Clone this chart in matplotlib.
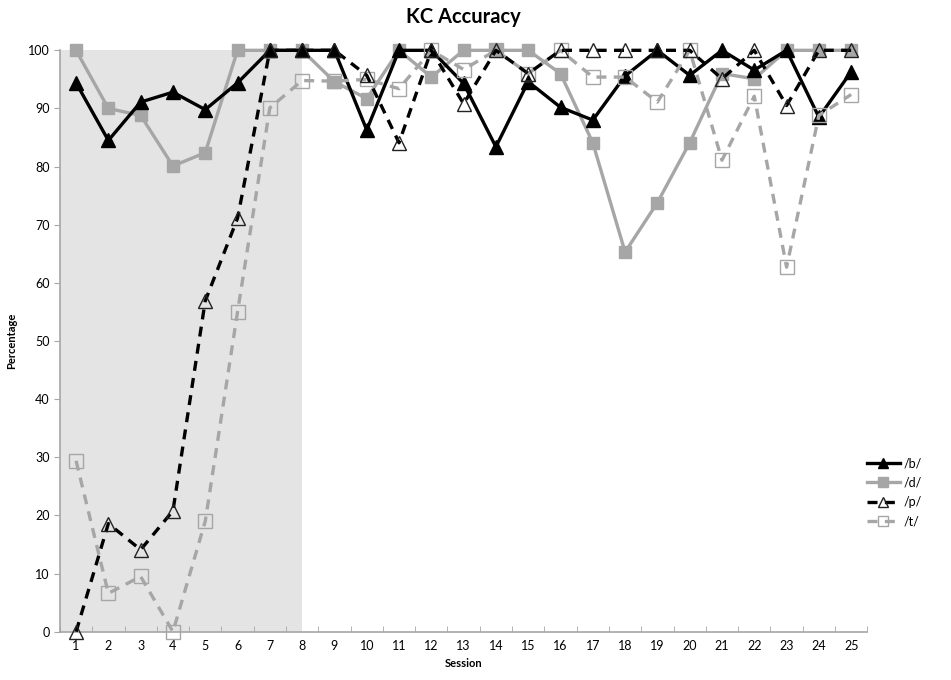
import matplotlib
matplotlib.use("Agg")
import matplotlib.pyplot as plt

sessions = list(range(1, 26))

b_vals = [94.4, 84.5, 91.1, 92.8, 89.8, 94.4, 100, 100, 100, 86.3, 100, 100, 94.3,
          83.4, 94.6, 90.2, 88.0, 95.6, 100, 95.7, 100, 96.6, 100, 88.5, 96.3]
d_vals = [100, 90.0, 88.8, 80.1, 82.4, 100, 100, 100, 94.6, 91.7, 100, 95.4, 100,
          100, 100, 96.0, 84.1, 65.3, 73.8, 84.1, 96.0, 95.1, 100, 100, 100]
p_vals = [0, 18.6, 14.1, 20.8, 56.9, 71.1, 100, 100, 100, 95.7, 84.1, 100, 90.8,
          100, 96.0, 100, 100, 100, 100, 100, 95.1, 100, 90.5, 100, 100]
t_vals = [29.4, 6.6, 9.5, 0, 19.0, 55.0, 90.1, 94.8, 94.7, 95.0, 93.4, 100, 96.7,
          100, 96.0, 100, 95.4, 95.4, 91.1, 100, 81.1, 92.1, 62.7, 88.8, 92.4]

baseline_end = 8
gray = '#a6a6a6'

plt.rcParams['font.family'] = ['Lato', 'DejaVu Sans']

fig = plt.figure(figsize=(9.51, 6.8), dpi=100)
ax = fig.add_axes([0.063, 0.071, 0.849, 0.855])

ax.axvspan(0.5, baseline_end, ymin=0, ymax=1, color='#e4e4e4', zorder=0, lw=0)

ax.plot(sessions, b_vals, color='black', lw=2.4, marker='^', ms=10,
        mfc='black', mec='black', label='/b/', zorder=4, clip_on=False)
ax.plot(sessions, d_vals, color=gray, lw=2.4, marker='s', ms=9,
        mfc=gray, mec=gray, label='/d/', zorder=3, clip_on=False)
ax.plot(sessions, p_vals, color='black', lw=2.4, ls=(0, (3, 2.2)), marker='^', ms=10,
        mfc='none', mec='#222222', mew=1.0, label='/p/', zorder=5, clip_on=False)
ax.plot(sessions, t_vals, color=gray, lw=2.4, ls=(0, (3, 2.2)), marker='s', ms=10,
        mfc='none', mec=gray, mew=1.0, label='/t/', zorder=4, clip_on=False)

ax.set_xlim(0.5, 25.5)
ax.set_ylim(0, 100)
ax.set_yticks(range(0, 101, 10))
ax.set_xticks(sessions)
ax.set_xticks([s + 0.5 for s in range(0, 26)], minor=True)
ax.tick_params(axis='x', which='major', length=0, labelsize=9, pad=6)
ax.tick_params(axis='x', which='minor', length=4, color=gray, direction='in')
ax.tick_params(axis='y', length=4, color=gray, labelsize=9)

for side in ['top', 'right']:
    ax.spines[side].set_visible(False)
for side in ['left', 'bottom']:
    ax.spines[side].set_color(gray)
    ax.spines[side].set_linewidth(1.2)

ax.set_xlabel('Session', fontsize=8, fontweight='bold', labelpad=4)
ax.set_ylabel('Percentage', fontsize=8, fontweight='bold', labelpad=8)
ax.set_title('KC Accuracy', fontsize=14.5, fontweight='bold', pad=20)

fig.legend(loc='center left', bbox_to_anchor=(0.9, 0.276), frameon=False,
           fontsize=9, handlelength=2.6, labelspacing=0.6, handletextpad=0.3,
           markerscale=0.75)

plt.savefig('out.png', dpi=100)
